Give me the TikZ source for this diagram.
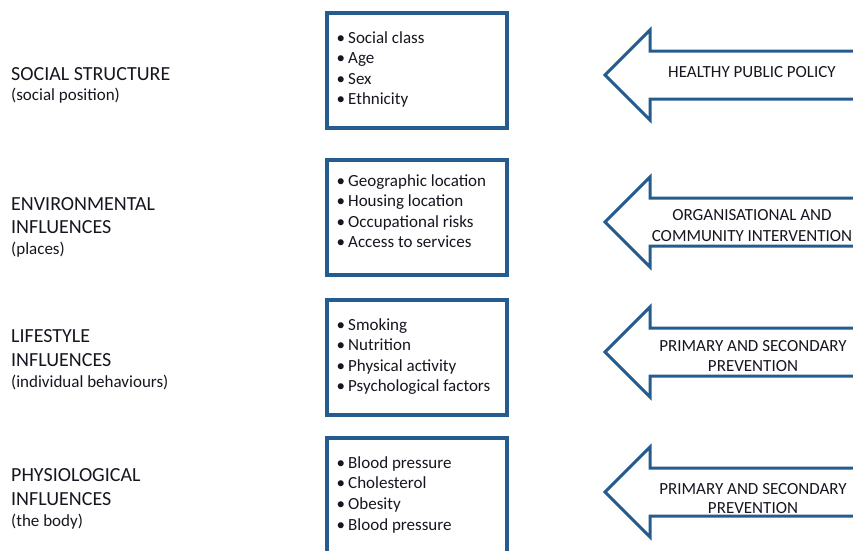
\documentclass[tikz,border=0pt]{standalone}
\usepackage{fontspec}
\setmainfont{Carlito}
\definecolor{frameblue}{RGB}{37,92,143}
\definecolor{ink}{RGB}{22,22,32}
\tikzset{
  factorbox/.style={draw=frameblue, line width=3.5pt, fill=white},
  policyarrow/.style={draw=frameblue, line width=3pt, fill=white, line join=miter},
  itemtext/.style={anchor=base west, inner sep=0pt, text=ink, font=\fontsize{17}{20.5}\selectfont},
  headtext/.style={anchor=base west, inner sep=0pt, text=ink, font=\fontsize{20}{23.3}\selectfont},
  subtext/.style={anchor=base west, inner sep=0pt, text=ink, font=\fontsize{17}{20}\selectfont},
  arrowtext/.style={anchor=base, inner sep=0pt, text=ink, font=\fontsize{17}{20.5}\selectfont},
}
\newcommand{\bul}{\makebox[0pt][r]{\textbullet\hspace{3pt}}}
\begin{document}
\begin{tikzpicture}[x=1pt,y=-1pt]
\useasboundingbox (0,0) rectangle (853,550);
\clip (0,0) rectangle (853,550);

% left labels
\node[headtext] (h1a) at (11,80.7) {SOCIAL STRUCTURE};
\node[subtext]  (h1s) at (11,100) {(social position)};
\node[headtext] (h2a) at (11,210) {ENVIRONMENTAL};
\node[headtext] (h2b) at (11,233.3) {INFLUENCES};
\node[subtext]  (h2s) at (11,254) {(places)};
\node[headtext] (h3a) at (11,342.7) {LIFESTYLE};
\node[headtext] (h3b) at (11,366) {INFLUENCES};
\node[subtext]  (h3s) at (11,387) {(individual behaviours)};
\node[headtext] (h4a) at (11,481.7) {PHYSIOLOGICAL};
\node[headtext] (h4b) at (11,505) {INFLUENCES};
\node[subtext]  (h4s) at (11,526.7) {(the body)};

% boxes
\foreach \top [count=\k] in {13,160,300,438}
  \draw[factorbox] (327,\top) rectangle (507,\top+115);

\foreach [count=\i] \t in {Social class,Age,Sex,Ethnicity}
  \node[itemtext] (b1l\i) at (348,43.3+20.5*\i-20.5) {\bul\t};
\foreach [count=\i] \t in {Geographic location,Housing location,Occupational risks,Access to services}
  \node[itemtext] (b2l\i) at (348,186+20.5*\i-20.5) {\bul\t};
\foreach [count=\i] \t in {Smoking,Nutrition,Physical activity,Psychological factors}
  \node[itemtext] (b3l\i) at (348,330+20.6*\i-20.6) {\bul\t};
\foreach [count=\i] \t in {Blood pressure,Cholesterol,Obesity,Blood pressure}
  \node[itemtext] (b4l\i) at (348,468.3+20.6*\i-20.6) {\bul\t};

% arrows
\foreach \cy in {75,222,352,492}
  \draw[policyarrow] (605,\cy) -- (650,\cy-45) -- (650,\cy-24) -- (880,\cy-24)
    -- (880,\cy+24) -- (650,\cy+24) -- (650,\cy+45) -- cycle;

\node[arrowtext] (a1) at (752,77.5) {HEALTHY PUBLIC POLICY};
\node[arrowtext] (a2a) at (752,220.5) {ORGANISATIONAL AND};
\node[arrowtext] (a2b) at (752,241.5) {COMMUNITY INTERVENTION};
\node[arrowtext] (a3a) at (753,351) {PRIMARY AND SECONDARY};
\node[arrowtext] (a3b) at (753,371) {PREVENTION};
\node[arrowtext] (a4a) at (753,494) {PRIMARY AND SECONDARY};
\node[arrowtext] (a4b) at (753,513.5) {PREVENTION};
\end{tikzpicture}
\end{document}
